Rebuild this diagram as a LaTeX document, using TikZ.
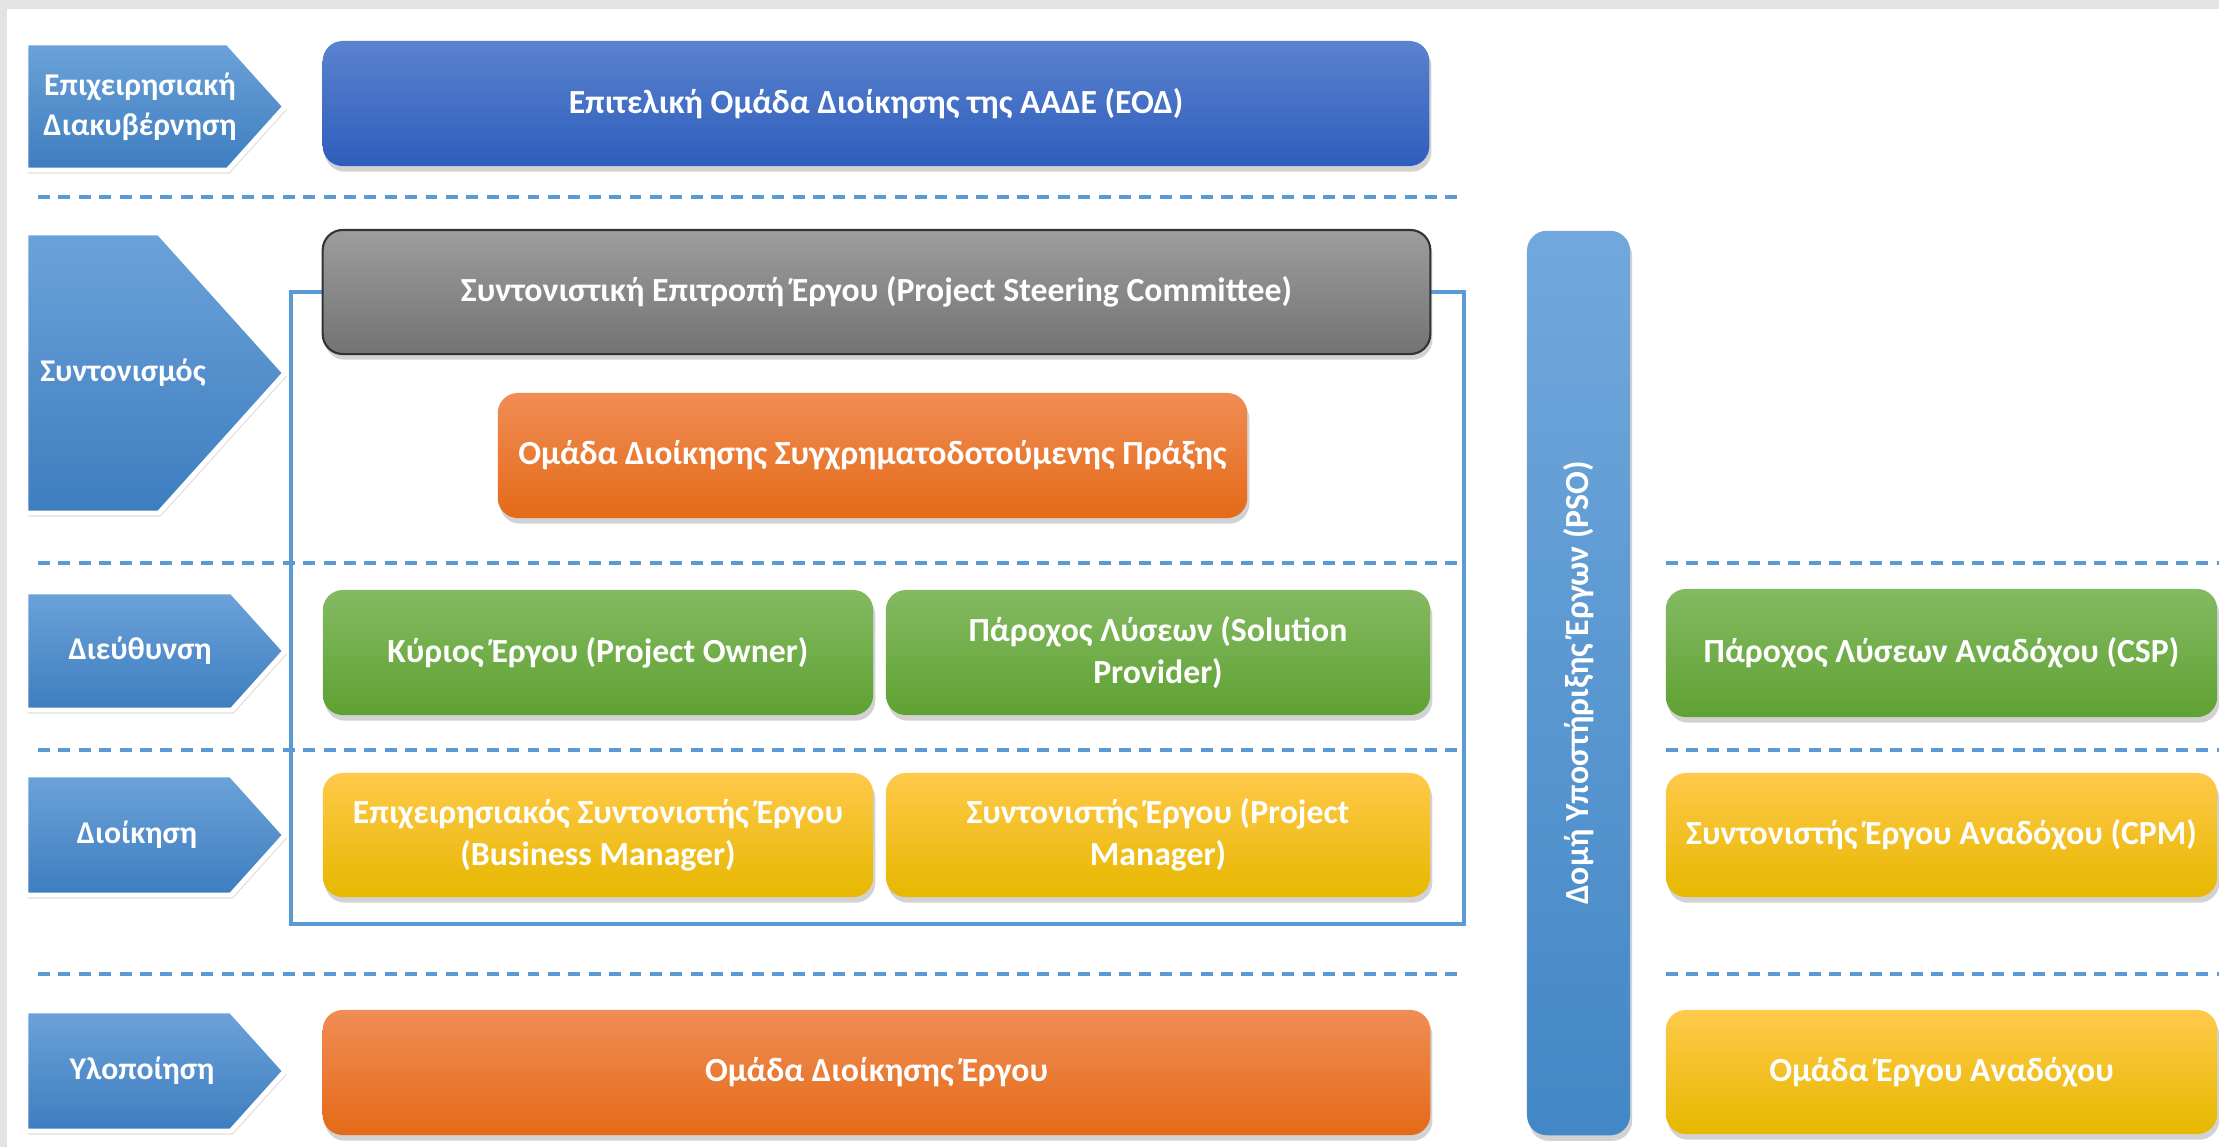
\documentclass[tikz,border=0pt]{standalone}
\usepackage{fontspec}
\setmainfont{Carlito}
\usepackage{tikz}
\usetikzlibrary{shadows}

\definecolor{lineblue}{HTML}{5B9BD5}
\definecolor{arrowtop}{HTML}{6CA2D9}
\definecolor{arrowbot}{HTML}{3D7DBF}
\definecolor{eodtop}{HTML}{5A83CF}
\definecolor{eodbot}{HTML}{2E5DBC}
\definecolor{graytop}{HTML}{9D9D9D}
\definecolor{graybot}{HTML}{737373}
\definecolor{orangetop}{HTML}{F08D55}
\definecolor{orangebot}{HTML}{E46A17}
\definecolor{greentop}{HTML}{84BA62}
\definecolor{greenbot}{HTML}{5FA132}
\definecolor{yellowtop}{HTML}{FFC94A}
\definecolor{yellowbot}{HTML}{E6B800}
\definecolor{psotop}{HTML}{72A8DC}
\definecolor{psobot}{HTML}{4287C6}

\newcommand{\boxfont}{\fontsize{9.6}{11.9}\selectfont\bfseries}
\newcommand{\lvlfont}{\fontsize{9}{11.5}\selectfont\bfseries}

\tikzset{
    govbox/.style={rounded corners=0.2cm, text=white, font=\boxfont, align=center, inner sep=2pt,
        drop shadow={shadow xshift=0.6pt, shadow yshift=-1.6pt, opacity=0.35}},
    bluebox/.style={govbox, top color=eodtop, bottom color=eodbot},
    graybox/.style={govbox, top color=graytop, bottom color=graybot, draw=black!80, line width=0.6pt},
    orangebox/.style={govbox, top color=orangetop, bottom color=orangebot},
    greenbox/.style={govbox, top color=greentop, bottom color=greenbot},
    yellowbox/.style={govbox, top color=yellowtop, bottom color=yellowbot},
    psobar/.style={govbox, top color=psotop, bottom color=psobot},
    levelarrow/.style={top color=arrowtop, bottom color=arrowbot, draw=white, line width=1.4pt,
        drop shadow={shadow xshift=0.5pt, shadow yshift=-1pt, opacity=0.25}},
    levellabel/.style={text=white, font=\lvlfont, align=center},
    sepline/.style={lineblue, line width=0.95pt, dash pattern=on 3.4pt off 2.4pt},
    frameline/.style={lineblue, line width=1.4pt}
}

\begin{document}
\begin{tikzpicture}[x=0.01cm, y=-0.01cm]

    \useasboundingbox (0,0) rectangle (2219,1147);
    \fill[black!11] (0,0) rectangle (2219,1147);
    \fill[white] (7,9) rectangle (2219,1147);

    % separators
    \draw[sepline] (38,197) -- (1465,197);
    \foreach \y in {563,750,974} {
        \draw[sepline] (38,\y) -- (1465,\y);
        \draw[sepline] (1666,\y) -- (2219,\y);
    }

    % levels
    \foreach \t/\b/\tx/\lab [count=\i] in {43/170/140/{Επιχειρησιακή\\Διακυβέρνηση},
            233/513/123/{Συντονισμός}, 592/710/140/{Διεύθυνση},
            775/895/137/{Διοίκηση}, 1011/1131/142/{Υλοποίηση}} {
        \draw[levelarrow] (26,\t) -- ({285-0.9*(\b-\t)/2},\t) -- (285,{(\t+\b)/2})
            -- ({285-0.9*(\b-\t)/2},\b) -- (26,\b) -- cycle;
        \node[levellabel] (lvl\i) at (\tx,{(\t+\b)/2}) {\lab};
    }

    \coordinate (fbl) at (291,924);
    \coordinate (fbr) at (1464,924);

    % boxes
    \node[bluebox, minimum width=11.06cm, minimum height=1.25cm] (eod) at (876,103.5)
        {Επιτελική Ομάδα Διοίκησης της ΑΑΔΕ (ΕΟΔ)};
    \draw[frameline] (876,292) -| (fbl) -- (fbr) |- (876,292);
    \node[graybox, minimum width=11.07cm, minimum height=1.24cm] (steer) at (876.5,292)
        {Συντονιστική Επιτροπή Έργου (Project Steering Committee)};
    \node[orangebox, minimum width=7.49cm, minimum height=1.25cm] (cofin) at (872.5,455.5)
        {Ομάδα Διοίκησης Συγχρηματοδοτούμενης Πράξης};
    \node[greenbox, minimum width=5.50cm, minimum height=1.25cm] (owner) at (598,652.5)
        {Κύριος Έργου (Project Owner)};
    \node[greenbox, minimum width=5.44cm, minimum height=1.25cm] (provider) at (1158,652.5)
        {Πάροχος Λύσεων (Solution\\Provider)};
    \node[yellowbox, minimum width=5.50cm, minimum height=1.24cm] (bizman) at (598,835)
        {Επιχειρησιακός Συντονιστής Έργου\\(Business Manager)};
    \node[yellowbox, minimum width=5.44cm, minimum height=1.24cm] (projman) at (1158,835)
        {Συντονιστής Έργου (Project\\Manager)};
    \node[orangebox, minimum width=11.07cm, minimum height=1.25cm] (team) at (876.5,1072.5)
        {Ομάδα Διοίκησης Έργου};

    \node[psobar, minimum width=1.03cm, minimum height=9.04cm] (pso) at (1578.5,683) {};
    \node[rotate=90, text=white, font=\boxfont] (psotext) at (pso.center)
        {Δομή Υποστήριξης Έργων (PSO)};

    \node[greenbox, minimum width=5.51cm, minimum height=1.28cm] (csp) at (1941.5,653)
        {Πάροχος Λύσεων Αναδόχου (CSP)};
    \node[yellowbox, minimum width=5.51cm, minimum height=1.24cm] (cpm) at (1941.5,835)
        {Συντονιστής Έργου Αναδόχου (CPM)};
    \node[yellowbox, minimum width=5.51cm, minimum height=1.24cm] (cteam) at (1941.5,1072)
        {Ομάδα Έργου Αναδόχου};

\end{tikzpicture}
\end{document}
